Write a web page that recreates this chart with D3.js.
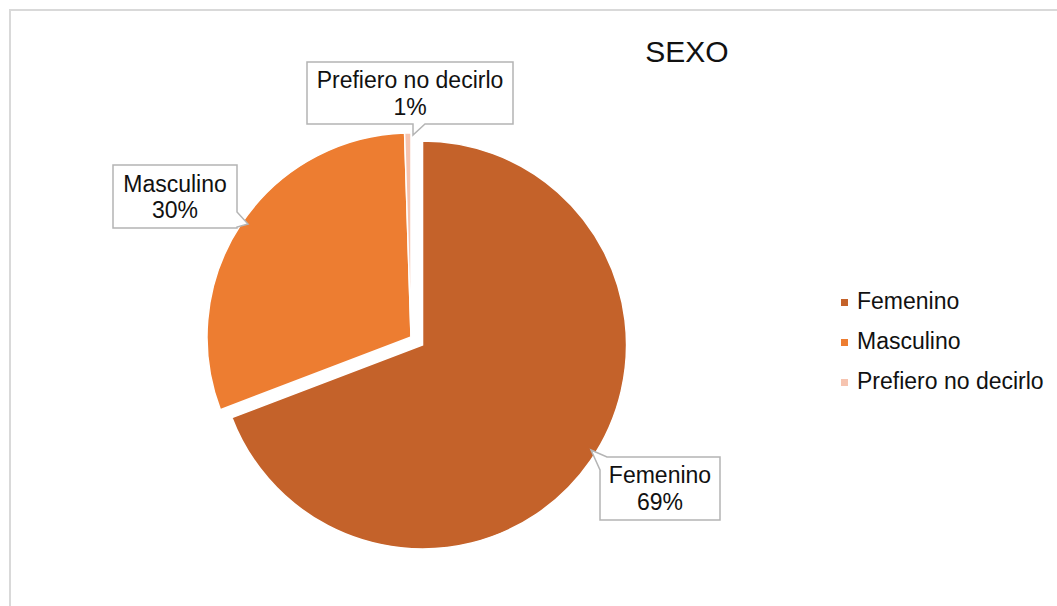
<!DOCTYPE html>
<html>
<head>
<meta charset="utf-8">
<script src="https://cdn.jsdelivr.net/npm/d3@7"></script>
<style>
  html, body { margin: 0; padding: 0; background: #fff; }
  svg { display: block; font-family: "Liberation Sans", Arial, sans-serif; }
</style>
</head>
<body>
<svg id="chart" width="1057" height="606"></svg>
<script>
// ---- data ----
const title = "SEXO";
const categories = ["Femenino", "Masculino", "Prefiero no decirlo"];
const values = [69.2, 30.3, 0.5];
const percentLabels = ["69%", "30%", "1%"];
const colors = ["#c4622a", "#ed7d31", "#f6c4b0"];

// ---- layout ----
const svg = d3.select("#chart");
const W = 1057, H = 606;

svg.append("rect").attr("x", 10).attr("y", 10).attr("width", W + 10).attr("height", H + 10)
  .attr("fill", "#fff").attr("stroke", "#d9d9d9").attr("stroke-width", 2);

svg.append("text").attr("x", 687).attr("y", 62).attr("text-anchor", "middle")
  .attr("font-size", 30).attr("fill", "#111").text(title);

const cx = 411, cy = 337, R = 204;
const explode = [14, 0, 0];

const pie = d3.pie().sort(null).value(d => d)(values);
const arc = d3.arc().innerRadius(0).outerRadius(R);

const g = svg.append("g").attr("transform", `translate(${cx},${cy})`);
g.selectAll("path.slice").data(pie).enter().append("path")
  .attr("class", "slice")
  .attr("d", arc)
  .attr("fill", (d, i) => colors[i])
  .attr("stroke", "#fff").attr("stroke-width", 1.5)
  .attr("transform", (d, i) => {
    const a = (d.startAngle + d.endAngle) / 2;
    return `translate(${Math.sin(a) * explode[i]},${-Math.cos(a) * explode[i]})`;
  });

// ---- callout labels ----
function calloutPath(b, ptr) {
  const [x0, y0, x1, y1] = b;
  const [tx, ty] = ptr.tip;
  if (ptr.side === "bottom") {
    return `M${x0},${y0}H${x1}V${y1}H${ptr.b}L${tx},${ty}L${ptr.a},${y1}H${x0}Z`;
  } else if (ptr.side === "right") {
    return `M${x0},${y0}H${x1}V${ptr.a}L${tx},${ty}L${x1},${ptr.b}V${y1}H${x0}Z`;
  } else { // top-left corner
    return `M${tx},${ty}L${ptr.a},${y0}H${x1}V${y1}H${x0}V${ptr.b}Z`;
  }
}

const callouts = [
  { box: [600, 457, 720, 520], ptr: { side: "corner", a: 607, b: 470, tip: [591, 450] }, cx: 660, y: [483, 510] },
  { box: [113, 165, 237, 228], ptr: { side: "right", a: 212, b: 227, tip: [248, 224] }, cx: 175, y: [192, 218] },
  { box: [307, 62, 513, 124], ptr: { side: "bottom", a: 413, b: 425, tip: [413, 135] }, cx: 410, y: [88, 115] }
];

callouts.forEach((c, i) => {
  svg.append("path").attr("d", calloutPath(c.box, c.ptr))
    .attr("fill", "#fff").attr("stroke", "#b4b4b4").attr("stroke-width", 1.5);
  svg.append("text").attr("x", c.cx).attr("y", c.y[0]).attr("text-anchor", "middle")
    .attr("font-size", 23).attr("fill", "#111").text(categories[i]);
  svg.append("text").attr("x", c.cx).attr("y", c.y[1]).attr("text-anchor", "middle")
    .attr("font-size", 23).attr("fill", "#111").text(percentLabels[i]);
});

// ---- legend ----
const legY = d3.scalePoint().domain(categories).range([302, 382]);
const leg = svg.append("g");
categories.forEach((c, i) => {
  leg.append("rect").attr("x", 841).attr("y", legY(c) - 3).attr("width", 7).attr("height", 7)
    .attr("fill", colors[i]);
  leg.append("text").attr("x", 857).attr("y", legY(c) + 7).attr("font-size", 23)
    .attr("fill", "#111").text(c);
});
</script>
</body>
</html>
